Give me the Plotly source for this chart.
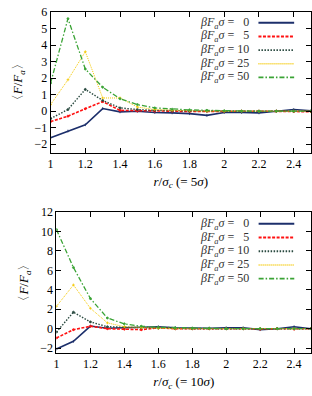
import plotly.graph_objects as go

r = [1.0, 1.1, 1.2, 1.3, 1.4, 1.5, 1.6, 1.7, 1.8, 1.9, 2.0, 2.1, 2.2, 2.3, 2.4, 2.5]

# top panel: r/sigma_c (=5 sigma)
top_f0 = [-1.61, -1.2, -0.82, 0.16, -0.04, 0.0, -0.08, -0.1, -0.15, -0.25, -0.08, -0.08, -0.1, 0.0, 0.1, 0.03]
top_f5 = [-0.63, -0.3, 0.15, 0.58, 0.05, 0.02, 0.0, 0.0, -0.02, 0.0, -0.02, 0.0, 0.0, 0.0, -0.02, -0.03]
top_f10 = [-0.45, 0.1, 1.32, 0.65, 0.2, 0.1, 0.05, 0.03, 0.0, 0.0, 0.0, 0.0, 0.0, 0.0, 0.0, 0.0]
top_f25 = [0.4, 1.9, 3.6, 0.8, 0.8, 0.25, 0.1, 0.05, 0.03, 0.0, 0.0, 0.0, 0.0, 0.0, 0.0, 0.0]
top_f50 = [1.7, 5.6, 2.55, 1.45, 0.75, 0.4, 0.2, 0.12, 0.08, 0.05, 0.02, 0.0, 0.0, 0.0, 0.0, 0.0]

# bottom panel: r/sigma_c (=10 sigma)
bot_f0 = [-2.1, -1.3, 0.27, 0.05, 0.1, 0.15, 0.2, 0.1, 0.05, 0.05, 0.1, 0.1, -0.1, 0.0, 0.2, 0.0]
bot_f5 = [-0.95, -0.1, 0.25, 0.0, -0.05, -0.1, 0.1, 0.0, 0.0, 0.0, 0.0, 0.0, -0.05, 0.0, -0.05, 0.0]
bot_f10 = [-0.35, 1.7, 0.7, 0.2, 0.15, 0.1, 0.05, 0.0, 0.0, 0.0, 0.0, 0.0, 0.0, 0.0, 0.0, 0.0]
bot_f25 = [2.3, 4.5, 2.1, 0.6, 0.2, 0.1, 0.05, 0.0, 0.0, 0.0, 0.0, 0.0, 0.0, 0.0, 0.0, 0.0]
bot_f50 = [10.2, 6.3, 3.1, 1.1, 0.5, 0.25, 0.15, 0.1, 0.05, 0.05, 0.0, 0.0, 0.0, 0.0, 0.0, 0.0]

labels = ["0", "5", "10", "25", "50"]
x_ticks = [1, 1.2, 1.4, 1.6, 1.8, 2, 2.2, 2.4]
top_yticks = [-2, -1, 0, 1, 2, 3, 4, 5, 6]
bot_yticks = [-2, 0, 2, 4, 6, 8, 10, 12]

styles = [
    dict(color="#1c2f6b", dash="solid", width=1.6, symbol="line-ns"),
    dict(color="#ff1111", dash="3px,1.5px", width=1.6, symbol="circle"),
    dict(color="#2a4a40", dash="1.5px,1.5px", width=1.4, symbol="circle"),
    dict(color="#f4c800", dash="1px,1px", width=1.0, symbol="cross-thin"),
    dict(color="#3aa335", dash="5px,2px,1.5px,2px", width=1.3, symbol="circle"),
]

FONT = "Liberation Serif"
fig = go.Figure()

panels = [
    ("x", "y", [top_f0, top_f5, top_f10, top_f25, top_f50]),
    ("x2", "y2", [bot_f0, bot_f5, bot_f10, bot_f25, bot_f50]),
]
for xa, ya, series in panels:
    for vals, st in zip(series, styles):
        fig.add_trace(go.Scatter(
            x=r, y=vals, xaxis=xa, yaxis=ya, mode="lines+markers",
            line=dict(color=st["color"], dash=st["dash"], width=st["width"]),
            marker=dict(symbol=st["symbol"], size=2, color=st["color"],
                        line=dict(color=st["color"], width=0.8)),
            showlegend=False, cliponaxis=True))

axis_common = dict(showgrid=False, zeroline=False, showline=True, linecolor="black",
                   linewidth=1, mirror="ticks", ticks="inside", ticklen=5,
                   tickcolor="black", tickfont=dict(family=FONT, size=12, color="black"))

fig.update_layout(
    width=312, height=396, margin=dict(l=0, r=0, t=0, b=0),
    paper_bgcolor="white", plot_bgcolor="white",
    font=dict(family=FONT, color="black"),
    xaxis=dict(domain=[0.154, 0.997], range=[1, 2.5], tickvals=x_ticks, anchor="y",
               title=dict(text="<i>r</i>/<i>σ<sub>c</sub></i> (= 5<i>σ</i>)", font=dict(size=13), standoff=6),
               **axis_common),
    yaxis=dict(domain=[0.624, 0.987], range=[-2.5, 6], tickvals=top_yticks, anchor="x",
               title=dict(text="〈<i>F</i>/<i>F<sub>a</sub></i>〉", font=dict(size=13), standoff=8),
               **axis_common),
    xaxis2=dict(domain=[0.173, 0.997], range=[1, 2.5], tickvals=x_ticks, anchor="y2",
                title=dict(text="<i>r</i>/<i>σ<sub>c</sub></i> (= 10<i>σ</i>)", font=dict(size=13), standoff=6),
                **axis_common),
    yaxis2=dict(domain=[0.106, 0.470], range=[-2.5, 12], tickvals=bot_yticks, anchor="x2",
                title=dict(text="〈<i>F</i>/<i>F<sub>a</sub></i>〉", font=dict(size=13), standoff=8),
                **axis_common),
)

# custom legends (text left, line sample right)
legend_cfg = [
    ("x domain", "y domain", 0.768, 0.798, 0.935, [0.924, 0.826, 0.729, 0.632, 0.535]),
    ("x2 domain", "y2 domain", 0.763, 0.794, 0.934, [0.917, 0.819, 0.722, 0.625, 0.528]),
]
for xref, yref, xt, x0, x1, ys in legend_cfg:
    for lab, st, yy in zip(labels, styles, ys):
        pad = "&nbsp;&nbsp;" if len(lab) == 1 else ""
        fig.add_annotation(xref=xref, yref=yref, x=xt, y=yy, xanchor="right", yanchor="middle",
                           text=f"<i>βF<sub>a</sub>σ</i> = {pad}{lab}",
                           showarrow=False, font=dict(family=FONT, size=12, color="#333"))
        fig.add_shape(type="line", xref=xref, yref=yref, x0=x0, x1=x1, y0=yy, y1=yy,
                      line=dict(color=st["color"], dash=st["dash"], width=st["width"] + 0.4))

fig.write_html("out.html", config={"displayModeBar": False},
               post_script="document.body.style.margin='0';document.body.style.overflow='hidden';")
